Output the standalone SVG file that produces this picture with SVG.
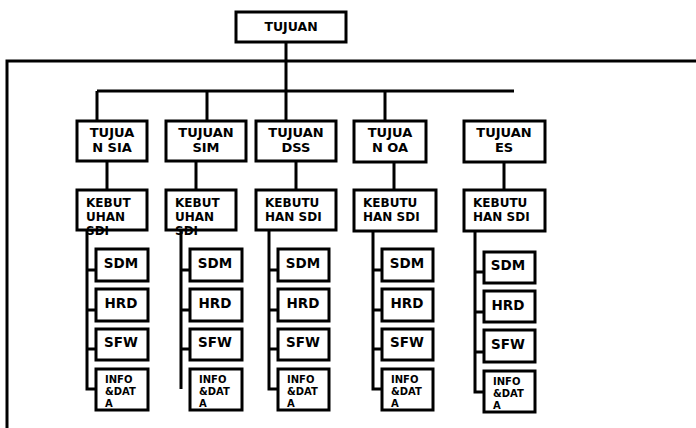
<svg xmlns="http://www.w3.org/2000/svg" width="696" height="428" viewBox="0 0 696 428">
<style>
.b{fill:none;stroke:#000;stroke-width:3}
.l{fill:none;stroke:#000;stroke-width:3}
text{font-family:"DejaVu Sans",Verdana,sans-serif;font-weight:bold;fill:#000}
.t{font-size:13px;text-anchor:middle}
.k{font-size:12px}
.s{font-size:13.5px;text-anchor:middle}
.i{font-size:10px}
</style>
<rect width="696" height="428" fill="#fff"/>
<g id="connectors">
<path class="l" d="M7 428V61H696"/>
<path class="l" d="M286 42V121M97 91H514M97 91V121M207 91V121M385 91V121"/>
<path class="l" d="M107 161V190M196 161V190M296 161V190M394 162V190M504 162V190"/>
<path class="l" d="M87 230V389H96M87 270H96M87 310H96M87 349H96"/>
<path class="l" d="M181 230V389M181 270H190M181 310H190M181 349H190"/>
<path class="l" d="M269 230V389H278M269 270H278M269 310H278M269 349H278"/>
<path class="l" d="M373 231V389H382M373 270H382M373 310H382M373 349H382"/>
<path class="l" d="M475 231V392H484M475 272H484M475 312H484M475 352H484"/>
</g>
<g id="tujuan"><text x="291" y="31" class="t" style="font-size:12.5px">TUJUAN</text><rect class="b" x="236" y="12" width="110" height="30"/></g>
<g id="tujuan-sia"><text class="t" x="112"><tspan x="112" y="137">TUJUA</tspan><tspan x="112" y="152">N SIA</tspan></text><rect class="b" x="77" y="121" width="70" height="40"/></g>
<g id="tujuan-sim"><text class="t"><tspan x="206" y="137">TUJUAN</tspan><tspan x="206" y="152">SIM</tspan></text><rect class="b" x="166" y="121" width="80" height="40"/></g>
<g id="tujuan-dss"><text class="t"><tspan x="296" y="137">TUJUAN</tspan><tspan x="296" y="152">DSS</tspan></text><rect class="b" x="256" y="121" width="80" height="40"/></g>
<g id="tujuan-oa"><text class="t"><tspan x="390" y="137">TUJUA</tspan><tspan x="390" y="152">N OA</tspan></text><rect class="b" x="354" y="121" width="72" height="41"/></g>
<g id="tujuan-es"><text class="t"><tspan x="504" y="137">TUJUAN</tspan><tspan x="504" y="152">ES</tspan></text><rect class="b" x="464" y="121" width="81" height="41"/></g>
<g id="kebutuhan-sia"><text class="k"><tspan x="86" y="207">KEBUT</tspan><tspan x="86" y="221">UHAN</tspan><tspan x="86" y="235">SDI</tspan></text><rect class="b" x="77" y="190" width="70" height="40"/></g>
<g id="kebutuhan-sim"><text class="k"><tspan x="175" y="207">KEBUT</tspan><tspan x="175" y="221">UHAN</tspan><tspan x="175" y="235">SDI</tspan></text><rect class="b" x="166" y="190" width="70" height="40"/></g>
<g id="kebutuhan-dss"><text class="k"><tspan x="265" y="207">KEBUTU</tspan><tspan x="265" y="221">HAN SDI</tspan></text><rect class="b" x="256" y="190" width="80" height="40"/></g>
<g id="kebutuhan-oa"><text class="k"><tspan x="363" y="207">KEBUTU</tspan><tspan x="363" y="221">HAN SDI</tspan></text><rect class="b" x="354" y="190" width="82" height="41"/></g>
<g id="kebutuhan-es"><text class="k"><tspan x="473" y="207">KEBUTU</tspan><tspan x="473" y="221">HAN SDI</tspan></text><rect class="b" x="464" y="190" width="81" height="41"/></g>
<g id="sia-sdm"><text class="s" x="121" y="268">SDM</text><rect class="b" x="96" y="249" width="52" height="32"/></g>
<g id="sia-hrd"><text class="s" x="121" y="308">HRD</text><rect class="b" x="96" y="289" width="52" height="32"/></g>
<g id="sia-sfw"><text class="s" x="121" y="347">SFW</text><rect class="b" x="96" y="329" width="52" height="31"/></g>
<g id="sia-info"><text class="i"><tspan x="105" y="383">INFO</tspan><tspan x="105" y="395">&amp;DAT</tspan><tspan x="105" y="407">A</tspan></text><rect class="b" x="96" y="369" width="52" height="41"/></g>
<g id="sim-sdm"><text class="s" x="215" y="268">SDM</text><rect class="b" x="190" y="249" width="52" height="32"/></g>
<g id="sim-hrd"><text class="s" x="215" y="308">HRD</text><rect class="b" x="190" y="289" width="52" height="32"/></g>
<g id="sim-sfw"><text class="s" x="215" y="347">SFW</text><rect class="b" x="190" y="329" width="52" height="31"/></g>
<g id="sim-info"><text class="i"><tspan x="199" y="383">INFO</tspan><tspan x="199" y="395">&amp;DAT</tspan><tspan x="199" y="407">A</tspan></text><rect class="b" x="190" y="369" width="52" height="41"/></g>
<g id="dss-sdm"><text class="s" x="303" y="268">SDM</text><rect class="b" x="278" y="249" width="51" height="32"/></g>
<g id="dss-hrd"><text class="s" x="303" y="308">HRD</text><rect class="b" x="278" y="289" width="51" height="32"/></g>
<g id="dss-sfw"><text class="s" x="303" y="347">SFW</text><rect class="b" x="278" y="329" width="51" height="31"/></g>
<g id="dss-info"><text class="i"><tspan x="287" y="383">INFO</tspan><tspan x="287" y="395">&amp;DAT</tspan><tspan x="287" y="407">A</tspan></text><rect class="b" x="278" y="369" width="51" height="41"/></g>
<g id="oa-sdm"><text class="s" x="407" y="268">SDM</text><rect class="b" x="382" y="249" width="51" height="32"/></g>
<g id="oa-hrd"><text class="s" x="407" y="308">HRD</text><rect class="b" x="382" y="289" width="51" height="32"/></g>
<g id="oa-sfw"><text class="s" x="407" y="347">SFW</text><rect class="b" x="382" y="329" width="51" height="31"/></g>
<g id="oa-info"><text class="i"><tspan x="391" y="383">INFO</tspan><tspan x="391" y="395">&amp;DAT</tspan><tspan x="391" y="407">A</tspan></text><rect class="b" x="382" y="369" width="51" height="41"/></g>
<g id="es-sdm"><text class="s" x="508" y="270">SDM</text><rect class="b" x="484" y="252" width="51" height="31"/></g>
<g id="es-hrd"><text class="s" x="508" y="310">HRD</text><rect class="b" x="484" y="291" width="51" height="31"/></g>
<g id="es-sfw"><text class="s" x="508" y="349">SFW</text><rect class="b" x="484" y="330" width="51" height="32"/></g>
<g id="es-info"><text class="i"><tspan x="493" y="385">INFO</tspan><tspan x="493" y="397">&amp;DAT</tspan><tspan x="493" y="409">A</tspan></text><rect class="b" x="484" y="371" width="51" height="41"/></g>
</svg>
